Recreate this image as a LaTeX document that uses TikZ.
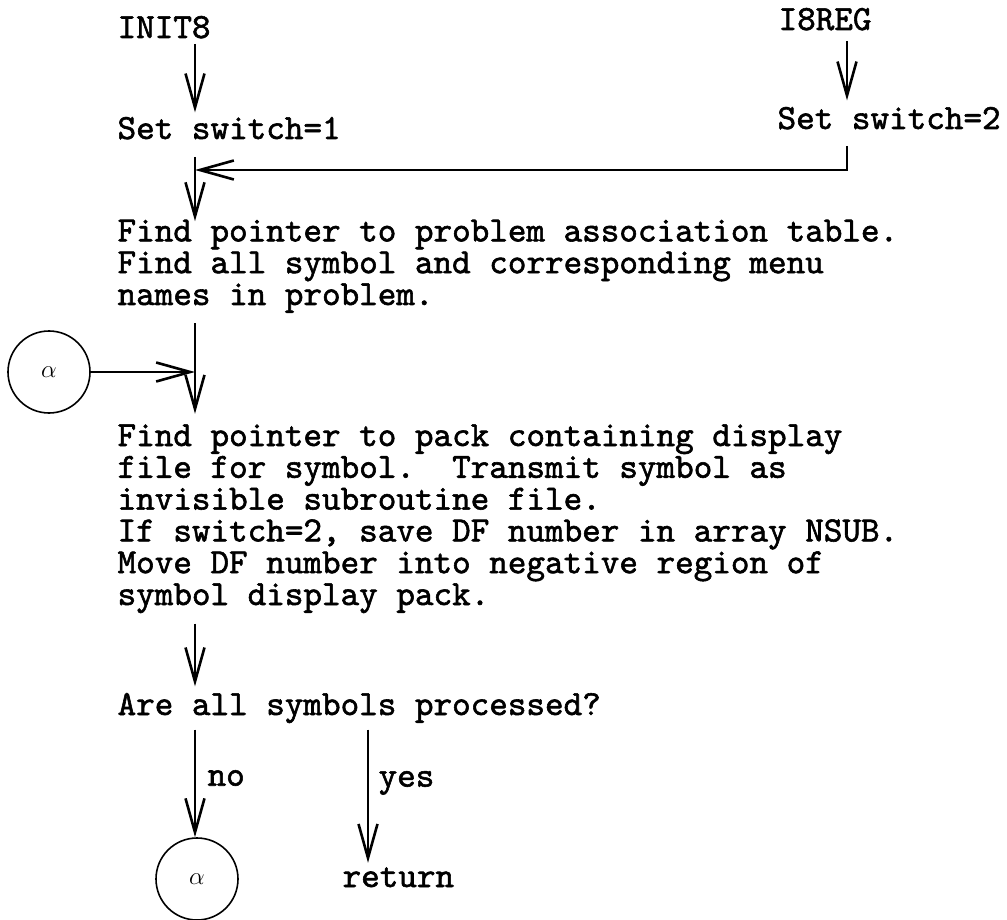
\documentclass[tikz,border=0pt]{standalone}
\usepackage{fontspec}
\setmainfont{lmmono10-regular.otf}[FakeBold=1.6]
\usetikzlibrary{arrows.meta,calc}

\begin{document}
\frenchspacing
\begin{tikzpicture}[x=1pt, y=-1pt, line width=1.2pt,
	every node/.style={font=\fontsize{35.4}{31.8}\selectfont, inner sep=0pt},
	txt/.style={anchor=base west, align=left},
	conn/.style={circle, draw, line width=1.6pt, minimum size=82pt, font=\fontsize{34}{34}\selectfont},
	>={Straight Barb[length=34pt,width=19pt,line width=2.6pt]}]
	\useasboundingbox (0,0) rectangle (1007,920);
	\coordinate (spine) at (195,0);
	\coordinate (side) at (847,0);
	\coordinate (exit) at (368,0);

	\node[txt] (init) at (117,38) {INIT8};
	\node[txt] (reg) at (778,30) {I8REG};
	\node[txt] (sw1) at (117,139) {Set switch=1};
	\node[txt] (sw2) at (777,129) {Set switch=2};
	\node[txt] (assoc) at (117,305) {Find pointer to problem association table.\\Find all symbol and corresponding menu\\names in problem.};
	\node[conn] (alphain) at (49,372) {$\alpha$};
	\node[txt] (pack) at (117,605) {Find pointer to pack containing display\\file for symbol.~~Transmit symbol as\\invisible subroutine file.\\If switch=2, save DF number in array NSUB.\\Move DF number into negative region of\\symbol display pack.};
	\node[txt] (done) at (117,715) {Are all symbols processed?};
	\node[conn] (alphaout) at (197,879) {$\alpha$};
	\node[txt] (ret) at (342,887) {return};

	\draw[->] ($(init.south -| spine)+(0,5)$) -- ($(sw1.north -| spine)+(0,-4)$);
	\draw[->] ($(reg.south -| side)+(0,10)$) -- ($(sw2.north -| side)+(0,-6)$);
	\draw[->, line width=1.8pt] ($(sw2.south -| side)+(0,16)$) |- (spine |- 0,170);
	\draw[->] (spine |- 0,157) -- ($(assoc.north -| spine)+(0,2)$);
	\draw[->] ($(assoc.south -| spine)+(0,10)$) -- ($(pack.north -| spine)+(0,-10)$);
	\draw[->] (alphain) -- (alphain -| spine);
	\draw[->] ($(pack.south -| spine)+(0,10)$) -- ($(done.north -| spine)+(0,-6)$);
	\draw[->] ($(done.south -| spine)+(0,6)$) -- (alphaout.north -| spine)
		node[pos=.45, right=12pt] (no) {no};
	\draw[->] ($(done.south -| exit)+(0,6)$) -- ($(ret.north -| exit)+(0,-4)$)
		node[pos=.4, right=10pt] (yes) {yes};
\end{tikzpicture}
\end{document}
